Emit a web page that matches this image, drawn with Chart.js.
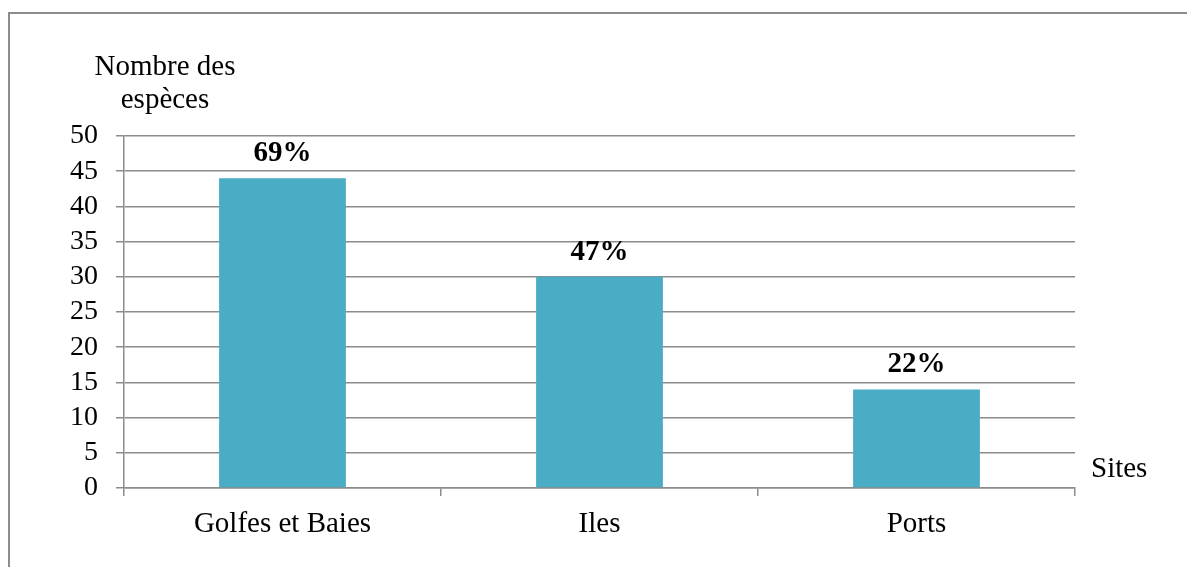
<!DOCTYPE html>
<html>
<head>
<meta charset="utf-8">
<script src="https://cdn.jsdelivr.net/npm/chart.js@4/dist/chart.umd.min.js"></script>
<style>
  html, body { margin: 0; padding: 0; background: #ffffff; }
  #wrap { width: 1187px; height: 567px; position: relative; }
</style>
</head>
<body>
<div id="wrap"><canvas id="c" width="1187" height="567"></canvas></div>
<script>
// Species counts per type of site, with the share of all species
const sites = ['Golfes et Baies', 'Iles', 'Ports'];
const speciesCount = [44, 30, 14];
const speciesShare = [69, 47, 22];
const yTicks = [0, 5, 10, 15, 20, 25, 30, 35, 40, 45, 50];

const GRID = '#8c8c8c';
const SERIF = '"Liberation Serif", "Times New Roman", serif';

const decorations = {
  id: 'decorations',
  afterDraw(chart) {
    const ctx = chart.ctx;
    const meta = chart.getDatasetMeta(0);
    ctx.save();

    // frame around the whole figure
    ctx.strokeStyle = GRID;
    ctx.lineWidth = 2;
    ctx.beginPath();
    ctx.moveTo(9, 600);
    ctx.lineTo(9, 13);
    ctx.lineTo(1200, 13);
    ctx.stroke();

    // percentage above each bar
    ctx.fillStyle = '#000';
    ctx.font = 'bold 29px ' + SERIF;
    ctx.textAlign = 'center';
    ctx.textBaseline = 'alphabetic';
    meta.data.forEach((bar, i) => {
      ctx.fillText(speciesShare[i] + '%', bar.x, bar.y - 17);
    });

    // axis titles
    ctx.font = '29px ' + SERIF;
    ctx.fillText('Nombre des', 165, 75);
    ctx.fillText('espèces', 165, 108);
    ctx.textAlign = 'left';
    ctx.fillText('Sites', 1091, 477);
    ctx.restore();
  }
};

new Chart(document.getElementById('c'), {
  type: 'bar',
  data: {
    labels: sites,
    datasets: [{
      data: speciesCount,
      backgroundColor: '#4BACC6',
      borderWidth: 0,
      barPercentage: 0.4,
      categoryPercentage: 1.0
    }]
  },
  options: {
    responsive: false,
    animation: false,
    devicePixelRatio: 1,
    layout: { padding: { top: 136, right: 112, left: 0, bottom: 0 } },
    plugins: {
      legend: { display: false },
      tooltip: { enabled: false }
    },
    scales: {
      x: {
        offset: true,
        afterFit(scale) { scale.height = 79; },
        grid: {
          offset: true,
          drawOnChartArea: false,
          drawTicks: true,
          tickLength: 8,
          color: GRID,
          lineWidth: 1.5
        },
        border: { display: true, color: GRID, width: 1.5 },
        ticks: {
          color: '#000',
          padding: 11,
          font: { family: SERIF, size: 29 }
        }
      },
      y: {
        min: 0,
        max: 50,
        afterFit(scale) { scale.width = 124; },
        afterBuildTicks(scale) { scale.ticks = yTicks.map(v => ({ value: v })); },
        grid: {
          color: GRID,
          lineWidth: 1.5,
          drawTicks: true,
          tickLength: 8
        },
        border: { display: true, color: GRID, width: 1.5 },
        ticks: {
          color: '#000',
          padding: 18,
          autoSkip: false,
          font: { family: SERIF, size: 28, lineHeight: 1 }
        }
      }
    }
  },
  plugins: [decorations]
});
</script>
</body>
</html>
